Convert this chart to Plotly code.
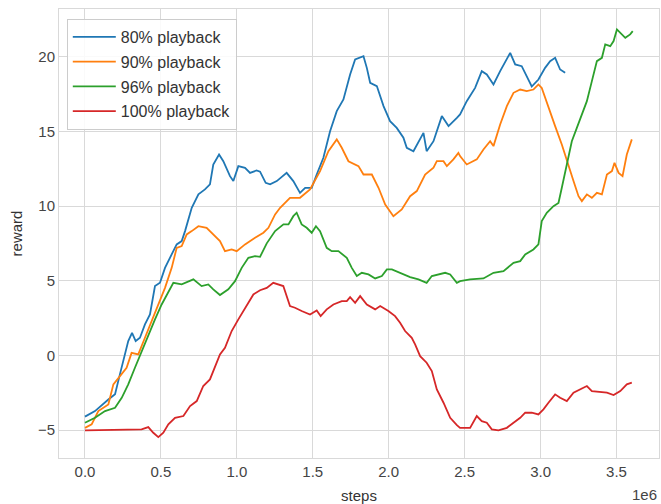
import plotly.graph_objects as go

# training steps (millions) and smoothed episode reward per playback ratio
steps_80 = [0.0, 0.066, 0.154, 0.198, 0.23, 0.285, 0.31, 0.334, 0.362, 0.395, 0.428, 0.461, 0.494,
            0.527, 0.571, 0.604, 0.637, 0.659, 0.703, 0.747, 0.79, 0.823, 0.845, 0.883, 0.911, 0.955,
            0.977, 1.01, 1.054, 1.087, 1.13, 1.153, 1.19, 1.219, 1.263, 1.328, 1.372, 1.416, 1.45,
            1.493, 1.526, 1.57, 1.614, 1.658, 1.702, 1.746, 1.779, 1.834, 1.856, 1.878, 1.922, 1.966,
            2.009, 2.053, 2.097, 2.119, 2.163, 2.196, 2.229, 2.25, 2.295, 2.35, 2.394, 2.449, 2.47,
            2.514, 2.569, 2.613, 2.646, 2.69, 2.734, 2.8, 2.833, 2.876, 2.909, 2.942, 2.986, 3.03,
            3.063, 3.096, 3.129, 3.162]
reward_80 = [-4.1, -3.73, -2.95, -2.6, -1.27, 0.96, 1.51, 0.96, 1.18, 2.07, 2.74, 4.64, 4.86,
             5.86, 6.76, 7.43, 7.65, 8.32, 9.88, 10.78, 11.11, 11.45, 12.78, 13.45, 13.0, 12.0,
             11.67, 12.67, 12.56, 12.22, 12.38, 12.3, 11.55, 11.45, 11.67, 12.22, 11.67, 10.88, 11.22,
             11.22, 12.11, 13.23, 15.0, 16.35, 17.13, 18.8, 19.81, 20.03, 19.25, 18.25, 18.03, 16.69,
             15.68, 15.23, 14.57, 13.9, 13.67, 14.34, 14.9, 13.67, 14.34, 16.02, 15.35, 15.9, 16.13,
             17.02, 17.91, 19.03, 18.81, 18.14, 19.03, 20.25, 19.48, 19.36, 18.69, 18.0, 18.47, 19.25,
             19.7, 19.92, 19.14, 18.92]

steps_90 = [0.0, 0.044, 0.088, 0.154, 0.187, 0.22, 0.274, 0.307, 0.351, 0.395, 0.45, 0.494, 0.527,
            0.571, 0.604, 0.637, 0.67, 0.703, 0.747, 0.801, 0.845, 0.889, 0.922, 0.966, 0.999, 1.054,
            1.12, 1.175, 1.208, 1.252, 1.285, 1.35, 1.416, 1.482, 1.548, 1.603, 1.658, 1.691, 1.735,
            1.801, 1.834, 1.889, 1.933, 1.977, 2.031, 2.086, 2.141, 2.185, 2.24, 2.295, 2.317, 2.361,
            2.383, 2.426, 2.459, 2.47, 2.514, 2.58, 2.624, 2.668, 2.69, 2.734, 2.778, 2.822, 2.866,
            2.909, 2.953, 2.986, 3.008, 3.052, 3.096, 3.14, 3.173, 3.217, 3.25, 3.272, 3.305, 3.338,
            3.371, 3.404, 3.437, 3.47, 3.487, 3.514, 3.54, 3.568, 3.601]
reward_90 = [-4.85, -4.62, -3.73, -3.28, -1.94, -1.5, -0.83, 0.17, 0.07, 1.18, 2.52, 3.63, 4.52,
             5.86, 7.2, 7.32, 8.1, 8.32, 8.65, 8.54, 8.1, 7.65, 6.98, 7.09, 6.98, 7.43,
             7.87, 8.21, 8.54, 9.44, 9.88, 10.55, 10.55, 11.11, 12.34, 13.67, 14.46, 13.9, 13.0,
             12.67, 12.11, 12.11, 11.22, 10.1, 9.32, 9.77, 10.66, 11.0, 12.11, 12.56, 13.0, 13.0,
             12.67, 13.12, 13.56, 13.34, 12.78, 13.12, 13.79, 14.34, 14.01, 15.46, 16.69, 17.58, 17.8,
             17.69, 17.8, 18.14, 17.91, 16.57, 15.35, 14.12, 13.0, 11.67, 10.66, 10.33, 10.78, 10.55,
             10.88, 10.78, 12.11, 12.34, 12.89, 12.22, 12.0, 13.45, 14.46]

steps_96 = [0.0, 0.066, 0.132, 0.198, 0.242, 0.285, 0.329, 0.373, 0.417, 0.461, 0.505, 0.549, 0.582,
            0.637, 0.714, 0.768, 0.812, 0.845, 0.889, 0.944, 0.988, 1.032, 1.076, 1.12, 1.153, 1.197,
            1.252, 1.307, 1.34, 1.372, 1.394, 1.427, 1.46, 1.493, 1.521, 1.548, 1.592, 1.625, 1.669,
            1.724, 1.757, 1.79, 1.823, 1.867, 1.911, 1.955, 1.988, 2.021, 2.075, 2.141, 2.196, 2.25,
            2.284, 2.328, 2.372, 2.405, 2.449, 2.47, 2.536, 2.624, 2.69, 2.756, 2.822, 2.866, 2.899,
            2.953, 2.986, 3.008, 3.041, 3.085, 3.118, 3.14, 3.173, 3.206, 3.239, 3.272, 3.305, 3.338,
            3.371, 3.404, 3.426, 3.459, 3.481, 3.503, 3.525, 3.558, 3.59, 3.607]
reward_96 = [-4.51, -4.18, -3.73, -3.51, -2.84, -1.94, -0.83, 0.29, 1.41, 2.41, 3.41, 4.3, 4.86,
             4.75, 5.09, 4.64, 4.75, 4.42, 4.04, 4.42, 4.97, 5.86, 6.53, 6.65, 6.6, 7.5,
             8.32, 8.77, 8.77, 9.32, 9.55, 8.77, 8.54, 8.21, 8.65, 8.32, 7.2, 6.98, 6.98,
             6.53, 5.86, 5.31, 5.53, 5.42, 5.15, 5.31, 5.76, 5.76, 5.53, 5.24, 5.09, 4.86,
             5.31, 5.42, 5.53, 5.42, 4.86, 4.97, 5.09, 5.15, 5.53, 5.64, 6.2, 6.31, 6.76,
             7.09, 7.43, 8.99, 9.55, 9.99, 10.2, 11.22, 12.78, 14.34, 15.23, 16.13, 17.02, 18.36,
             19.7, 19.92, 20.82, 20.7, 21.04, 21.82, 21.59, 21.26, 21.49, 21.71]

steps_100 = [0.0, 0.1, 0.2, 0.3, 0.373, 0.417, 0.45, 0.483, 0.516, 0.549, 0.593, 0.648, 0.692,
             0.736, 0.779, 0.823, 0.856, 0.889, 0.922, 0.966, 1.01, 1.054, 1.109, 1.153, 1.197, 1.24,
             1.306, 1.35, 1.383, 1.427, 1.482, 1.526, 1.552, 1.592, 1.636, 1.691, 1.724, 1.746, 1.779,
             1.812, 1.856, 1.911, 1.944, 1.998, 2.042, 2.075, 2.108, 2.152, 2.174, 2.207, 2.25, 2.284,
             2.317, 2.361, 2.405, 2.449, 2.47, 2.536, 2.58, 2.613, 2.646, 2.679, 2.723, 2.778, 2.822,
             2.866, 2.899, 2.942, 2.986, 3.019, 3.052, 3.096, 3.129, 3.173, 3.217, 3.261, 3.305, 3.338,
             3.382, 3.437, 3.481, 3.525, 3.568, 3.601]
reward_100 = [-5.02, -5.0, -5.0, -5.0, -4.95, -4.8, -5.18, -5.47, -5.18, -4.62, -4.18, -4.06, -3.39,
              -3.06, -2.05, -1.61, -0.83, 0.07, 0.51, 1.63, 2.41, 3.19, 4.08, 4.36, 4.52, 4.86,
              4.64, 3.3, 3.19, 2.97, 2.74, 3.01, 2.63, 3.08, 3.41, 3.63, 3.63, 3.9, 3.52,
              3.97, 3.41, 3.08, 3.3, 2.97, 2.63, 2.18, 1.63, 1.18, 0.74, -0.05, -0.49, -1.05,
              -2.28, -3.17, -4.18, -4.67, -4.85, -4.85, -4.06, -4.4, -4.51, -4.95, -5.02, -4.85, -4.51,
              -4.18, -3.84, -3.84, -3.95, -3.61, -3.17, -2.61, -2.84, -3.06, -2.5, -2.28, -2.05, -2.39,
              -2.44, -2.5, -2.66, -2.39, -1.94, -1.83]

series = [
    ("80% playback", steps_80, reward_80, "#1f77b4"),
    ("90% playback", steps_90, reward_90, "#ff7f0e"),
    ("96% playback", steps_96, reward_96, "#2ca02c"),
    ("100% playback", steps_100, reward_100, "#d62728"),
]

x_ticks = [0.0, 0.5, 1.0, 1.5, 2.0, 2.5, 3.0, 3.5]
y_ticks = [-5, 0, 5, 10, 15, 20]

fig = go.Figure()
for name, xs, ys, color in series:
    fig.add_trace(go.Scatter(x=xs, y=ys, mode="lines", name=name, legendgroup=name,
                             line=dict(color=color, width=1.8)))

font_family = "Liberation Sans, Arial, sans-serif"
grid = "#d9d9d9"

fig.update_layout(
    width=661, height=504,
    margin=dict(l=59, r=2, t=9, b=46),
    paper_bgcolor="white", plot_bgcolor="white",
    font=dict(family=font_family, size=15, color="#444444"),
    showlegend=True,
    legend=dict(x=0.013, y=0.978, xanchor="left", yanchor="top",
                bgcolor="rgba(255,255,255,0.85)", bordercolor="#cccccc", borderwidth=1,
                font=dict(size=16, color="#333333"), tracegroupgap=1, itemwidth=43),
    xaxis=dict(range=[-0.171, 3.78], tickvals=x_ticks, tickformat=".1f",
               showgrid=True, gridcolor=grid, gridwidth=1, zeroline=False,
               showline=True, linecolor=grid, mirror=True, ticks="", ticklen=0,
               title=dict(text="steps", standoff=11, font=dict(size=15, color="#333333"))),
    yaxis=dict(range=[-6.87, 23.19], tickvals=y_ticks,
               showgrid=True, gridcolor=grid, gridwidth=1, zeroline=False,
               showline=True, linecolor=grid, mirror=True, ticks="", ticklen=0,
               title=dict(text="reward", standoff=11, font=dict(size=15, color="#333333"))),
    annotations=[dict(text="1e6", xref="paper", yref="paper", x=1.0, y=-0.058,
                      xanchor="right", yanchor="top", showarrow=False,
                      font=dict(size=15, color="#444444"))],
)

fig.write_html("out.html")
